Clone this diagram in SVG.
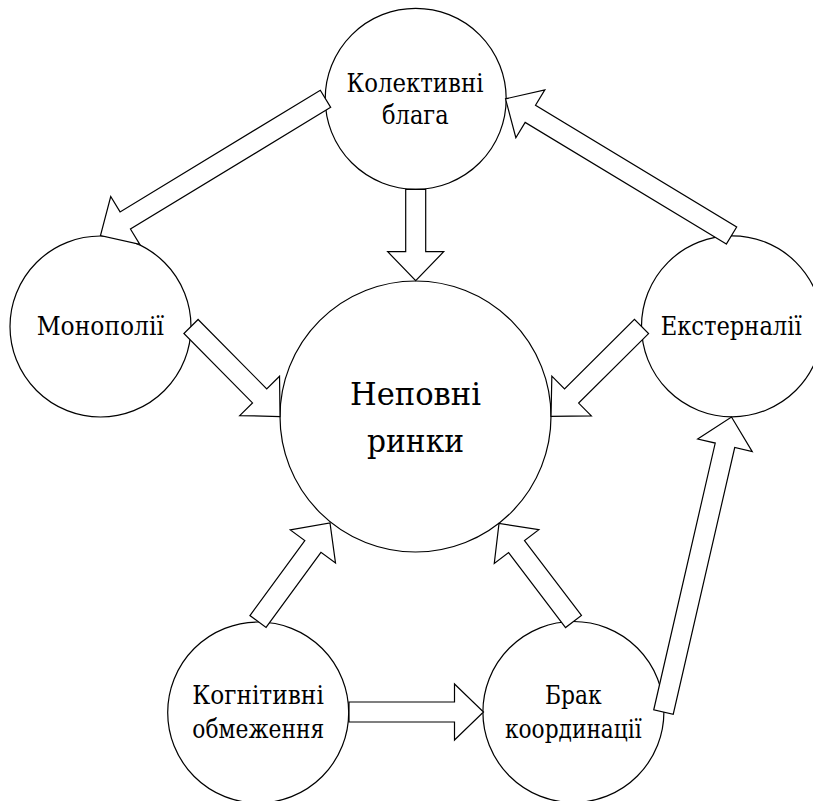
<svg xmlns="http://www.w3.org/2000/svg" width="813" height="801" viewBox="0 0 813 801">
<defs>
<style>
.node circle{fill:#fff;stroke:#000;stroke-width:1.2}
text{font-family:'DejaVu Serif','Liberation Serif',serif;font-size:25.5px;fill:#000;text-anchor:middle}
.big{font-size:32px}
.arr{fill:#fff;stroke:#000;stroke-width:1.2;stroke-linejoin:miter}
</style>
</defs>
<rect width="813" height="801" fill="#fff"/>
<g id="n-center" class="node"><circle cx="415.5" cy="416.5" r="135.5"/><text class="big" x="415.5" y="405" textLength="131" lengthAdjust="spacingAndGlyphs">Неповні</text><text class="big" x="415.5" y="451.5" textLength="97" lengthAdjust="spacingAndGlyphs">ринки</text></g>
<g id="n-top" class="node"><circle cx="415.7" cy="98.8" r="90.5"/><text x="415" y="91.7" textLength="137" lengthAdjust="spacingAndGlyphs">Колективні</text><text x="415.3" y="124" textLength="66.7" lengthAdjust="spacingAndGlyphs">блага</text></g>
<g id="n-mono" class="node"><circle cx="100.5" cy="326.5" r="90.5"/><text x="100.3" y="335" textLength="127.3" lengthAdjust="spacingAndGlyphs">Монополії</text></g>
<g id="n-ext" class="node"><circle cx="732" cy="326.3" r="90.5"/><text x="731.2" y="335" textLength="141" lengthAdjust="spacingAndGlyphs">Екстерналії</text></g>
<g id="n-cog" class="node"><circle cx="258.2" cy="712.5" r="90.5"/><text x="258" y="704" textLength="131.7" lengthAdjust="spacingAndGlyphs">Когнітивні</text><text x="258.3" y="738" textLength="132" lengthAdjust="spacingAndGlyphs">обмеження</text></g>
<g id="n-coord" class="node"><circle cx="573.4" cy="712" r="90.5"/><text x="573.3" y="704" textLength="56.7" lengthAdjust="spacingAndGlyphs">Брак</text><text x="573.3" y="738" textLength="136.7" lengthAdjust="spacingAndGlyphs">координації</text></g>
<g id="connectors">
<polygon class="arr" transform="translate(415.7,189.3) rotate(90)" points="0,-10 62.4,-10 62.4,-28 91.4,0 62.4,28 62.4,10 0,10"/>
<polygon class="arr" transform="translate(325.5,98.8) rotate(148.72)" points="0,-10 234.3,-10 234.3,-28 263.3,0 234.3,28 234.3,10 0,10"/>
<polygon class="arr" transform="translate(731.5,235.5) rotate(-148.83)" points="0,-10 235.1,-10 235.1,-28 264.1,0 235.1,28 235.1,10 0,10"/>
<polygon class="arr" transform="translate(191,326.5) rotate(45.32)" points="0,-10 97.6,-10 97.6,-28 126.6,0 97.6,28 97.6,10 0,10"/>
<polygon class="arr" transform="translate(641.5,326.5) rotate(135.16)" points="0,-10 98.6,-10 98.6,-28 127.6,0 98.6,28 98.6,10 0,10"/>
<polygon class="arr" transform="translate(258,621.5) rotate(-53.83)" points="0,-10 93,-10 93,-28 122,0 93,28 93,10 0,10"/>
<polygon class="arr" transform="translate(573.5,621.5) rotate(-127.24)" points="0,-10 94.1,-10 94.1,-28 123.1,0 94.1,28 94.1,10 0,10"/>
<polygon class="arr" transform="translate(349,712)" points="0,-10 105.5,-10 105.5,-28 134.5,0 105.5,28 105.5,10 0,10"/>
<polygon class="arr" transform="translate(663.5,712) rotate(-77.02)" points="0,-10 273.7,-10 273.7,-28 302.7,0 273.7,28 273.7,10 0,10"/>
</g>
</svg>
